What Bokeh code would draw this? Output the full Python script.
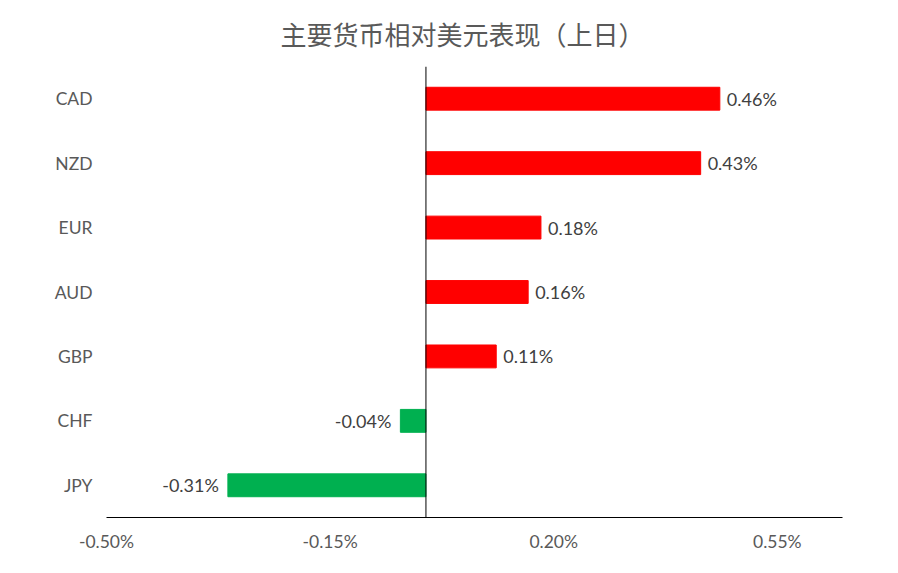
from bokeh.plotting import figure
from bokeh.models import ColumnDataSource, FixedTicker, PrintfTickFormatter, Span, Title
from bokeh.core.properties import value
from bokeh.embed import file_html
from bokeh.resources import INLINE

# currencies from bottom to top
currencies = ["JPY", "CHF", "GBP", "AUD", "EUR", "NZD", "CAD"]
changes = [-0.31, -0.04, 0.11, 0.16, 0.18, 0.43, 0.46]
x_ticks = [-0.50, -0.15, 0.20, 0.55]

colors = ["#FF0000" if v > 0 else "#00B050" for v in changes]
labels = ["%.2f%%" % v for v in changes]

source = ColumnDataSource(dict(cur=currencies, val=changes, color=colors, label=labels))
pos = ColumnDataSource(dict(cur=[c for c, v in zip(currencies, changes) if v > 0],
                            val=[v for v in changes if v > 0],
                            label=[l for l, v in zip(labels, changes) if v > 0]))
neg = ColumnDataSource(dict(cur=[c for c, v in zip(currencies, changes) if v <= 0],
                            val=[v for v in changes if v <= 0],
                            label=[l for l, v in zip(labels, changes) if v <= 0]))

p = figure(y_range=currencies, x_range=(-0.50, 0.652), width=882, height=557,
           output_backend="svg", toolbar_location=None,
           min_border_left=106, min_border_right=40, min_border_bottom=40, min_border_top=66)
p.title = Title(text="主要货币相对美元表现（上日）", align="left", offset=174, standoff=26,
                vertical_align="top", text_font="Noto Sans CJK SC", text_font_size="26px",
                text_font_style="normal", text_color="#595959")

p.hbar(y="cur", right="val", left=0, height=0.355, color="color", source=source)

p.text(x="val", y="cur", text="label", source=pos, x_offset=7, text_align="left",
       text_baseline="middle", text_font=value("Lato"), text_font_size="18px", text_color="#404040")
p.text(x="val", y="cur", text="label", source=neg, x_offset=-9, text_align="right",
       text_baseline="middle", text_font=value("Lato"), text_font_size="18px", text_color="#404040")

p.add_layout(Span(location=0, dimension="height", line_color="black", line_width=1))

p.xaxis.ticker = FixedTicker(ticks=x_ticks)
p.xaxis.formatter = PrintfTickFormatter(format="%.2f%%")
p.xaxis.axis_line_color = "black"
p.xaxis.major_tick_line_color = None
p.xaxis.minor_tick_line_color = None
p.xaxis.major_label_standoff = 7
p.xaxis.major_label_text_font = "Lato"
p.xaxis.major_label_text_font_size = "17.5px"
p.xaxis.major_label_text_color = "#595959"

p.yaxis.axis_line_color = None
p.yaxis.major_tick_line_color = None
p.yaxis.minor_tick_line_color = None
p.yaxis.major_label_standoff = 8
p.yaxis.major_label_text_font = "Lato"
p.yaxis.major_label_text_font_size = "17.5px"
p.yaxis.major_label_text_color = "#595959"

p.grid.grid_line_color = None
p.outline_line_color = None
p.y_range.range_padding = 0

open("out.html", "w").write(file_html(p, INLINE))
